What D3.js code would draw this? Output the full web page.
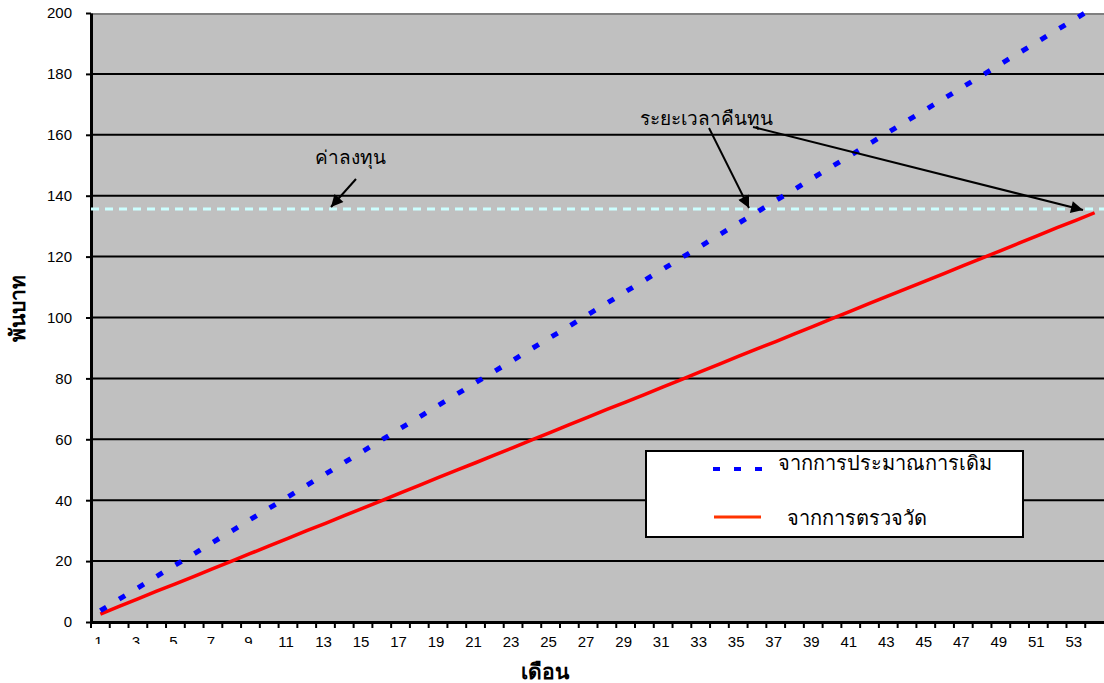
<!DOCTYPE html>
<html>
<head>
<meta charset="utf-8">
<script src="https://cdn.jsdelivr.net/npm/d3@7"></script>
<style>
  body { margin: 0; background: #fff; }
  .axis text { font-family: Arial, "Liberation Sans", sans-serif; font-size: 15px; fill: #000; }
  .thai { font-family: "Liberation Serif", "DejaVu Serif", serif; }
</style>
</head>
<body>
<div class="chart"></div>
<script>
const months = d3.range(1, 55);
const monthLabels = months.filter(m => m % 2 === 1);
const yTicks = [0, 20, 40, 60, 80, 100, 120, 140, 160, 180, 200];

// จากการประมาณการเดิม (blue, dotted)
const estimateValues = [
  3.7, 7.5, 11.2, 15.0, 18.7, 22.4, 26.2, 29.9, 33.7, 37.4,
  41.1, 44.9, 48.6, 52.4, 56.1, 59.8, 63.6, 67.3, 71.1, 74.8,
  78.6, 82.3, 86.0, 89.8, 93.5, 97.2, 101.0, 104.7, 108.5, 112.2,
  115.9, 119.7, 123.4, 127.2, 130.9, 134.6, 138.4, 142.1, 145.9, 149.6,
  153.3, 157.1, 160.8, 164.6, 168.3, 172.0, 175.8, 179.5, 183.3, 187.0,
  190.7, 194.5, 198.2, 202.0
];
// จากการตรวจวัด (red)
const measuredValues = [
  2.6, 5.1, 7.6, 10.1, 12.5, 15.0, 17.5, 20.0, 22.5, 25.0,
  27.5, 30.0, 32.4, 34.9, 37.4, 39.9, 42.4, 44.9, 47.4, 49.9,
  52.3, 54.8, 57.3, 59.8, 62.3, 64.8, 67.3, 69.8, 72.2, 74.7,
  77.2, 79.7, 82.2, 84.7, 87.2, 89.7, 92.1, 94.6, 97.1, 99.6,
  102.1, 104.6, 107.1, 109.6, 112.0, 114.5, 117.0, 119.5, 122.0, 124.5,
  127.0, 129.5, 131.9, 134.4
];
const investment = 135.6;

const W = 1104, H = 683;
const plot = { left: 91, top: 13, right: 1104, bottom: 622 };

const svg = d3.select('.chart').append('svg')
  .attr('width', W).attr('height', H);

const x = d3.scaleBand().domain(months).range([plot.left, plot.right]);
const y = d3.scaleLinear().domain([0, 200]).range([plot.bottom, plot.top]);
const cx = m => x(m) + x.bandwidth() / 2;

// plot background
svg.append('rect')
  .attr('x', plot.left).attr('y', plot.top)
  .attr('width', plot.right - plot.left).attr('height', plot.bottom - plot.top)
  .attr('fill', '#c0c0c0');
svg.append('line')
  .attr('x1', plot.left).attr('x2', plot.right)
  .attr('y1', plot.top + 1).attr('y2', plot.top + 1)
  .attr('stroke', '#808080').attr('stroke-width', 2);

// gridlines
svg.append('g').selectAll('line')
  .data(yTicks.filter(d => d > 0 && d < 200))
  .enter().append('line')
  .attr('x1', plot.left).attr('x2', plot.right)
  .attr('y1', d => y(d)).attr('y2', d => y(d))
  .attr('stroke', '#000').attr('stroke-width', 2);

// y axis
const yAxis = svg.append('g')
  .attr('class', 'axis')
  .attr('transform', `translate(${plot.left},0)`)
  .call(d3.axisLeft(y).tickValues(yTicks).tickSize(5).tickPadding(14).tickSizeOuter(0));
yAxis.select('.domain').attr('stroke-width', 3);
yAxis.selectAll('.tick line').attr('stroke-width', 2);

// x axis
const xAxis = svg.append('g')
  .attr('class', 'axis')
  .attr('transform', `translate(0,${plot.bottom})`)
  .call(d3.axisBottom(x).tickValues(monthLabels).tickSize(0).tickPadding(14));
xAxis.select('.domain').attr('stroke-width', 3);
xAxis.selectAll('.tick text').attr('dx', -2);

svg.append('g').selectAll('line')
  .data(months)
  .enter().append('line')
  .attr('x1', d => x(d)).attr('x2', d => x(d))
  .attr('y1', plot.bottom).attr('y2', plot.bottom + 6)
  .attr('stroke', '#000').attr('stroke-width', 2);

// first labels are cut off in the original
svg.append('rect')
  .attr('x', 80).attr('y', 644).attr('width', 182).attr('height', 18)
  .attr('fill', '#fff');

// investment line
svg.append('line')
  .attr('x1', plot.left).attr('x2', plot.right)
  .attr('y1', y(investment)).attr('y2', y(investment))
  .attr('stroke', '#ccffff').attr('stroke-width', 3)
  .attr('stroke-dasharray', '8,6');

const line = d3.line().x((d, i) => cx(months[i])).y(d => y(d));

svg.append('path')
  .attr('d', line(measuredValues))
  .attr('fill', 'none').attr('stroke', '#ff0000').attr('stroke-width', 3.5);

svg.append('path')
  .attr('d', line(estimateValues))
  .attr('fill', 'none').attr('stroke', '#0000ff').attr('stroke-width', 5)
  .attr('stroke-dasharray', '7,15');

// arrows
svg.append('defs').append('marker')
  .attr('id', 'arrow')
  .attr('viewBox', '0 0 10 10')
  .attr('refX', 10).attr('refY', 5)
  .attr('markerWidth', 7).attr('markerHeight', 6)
  .attr('markerUnits', 'strokeWidth')
  .attr('orient', 'auto')
  .append('path').attr('d', 'M0,0L10,5L0,10Z').attr('fill', '#000');

const arrows = [
  [356, 179, 331, 207],
  [709, 128, 749, 208],
  [753, 127, 1083, 210]
];
svg.append('g').selectAll('line')
  .data(arrows)
  .enter().append('line')
  .attr('x1', d => d[0]).attr('y1', d => d[1])
  .attr('x2', d => d[2]).attr('y2', d => d[3])
  .attr('stroke', '#000').attr('stroke-width', 2)
  .attr('marker-end', 'url(#arrow)');

svg.append('text').attr('class', 'thai')
  .attr('x', 350).attr('y', 164).attr('text-anchor', 'middle')
  .attr('font-size', 19).text('ค่าลงทุน');
svg.append('text').attr('class', 'thai')
  .attr('x', 706).attr('y', 125).attr('text-anchor', 'middle')
  .attr('font-size', 19).text('ระยะเวลาคืนทุน');

// legend
const lg = svg.append('g');
lg.append('rect')
  .attr('x', 646).attr('y', 451).attr('width', 377).attr('height', 86)
  .attr('fill', '#fff').attr('stroke', '#000').attr('stroke-width', 2);
lg.append('line')
  .attr('x1', 713).attr('x2', 762).attr('y1', 469).attr('y2', 469)
  .attr('stroke', '#0000ff').attr('stroke-width', 4).attr('stroke-dasharray', '7,14');
lg.append('text').attr('class', 'thai')
  .attr('x', 778).attr('y', 470).attr('font-size', 20)
  .text('จากการประมาณการเดิม');
lg.append('line')
  .attr('x1', 714).attr('x2', 761).attr('y1', 517).attr('y2', 517)
  .attr('stroke', '#ff3300').attr('stroke-width', 3);
lg.append('text').attr('class', 'thai')
  .attr('x', 787).attr('y', 525).attr('font-size', 20)
  .text('จากการตรวจวัด');

// axis titles
svg.append('text').attr('class', 'thai')
  .attr('x', 545).attr('y', 679).attr('text-anchor', 'middle')
  .attr('font-size', 21).attr('font-weight', 'bold')
  .text('เดือน');
svg.append('text').attr('class', 'thai')
  .attr('transform', 'translate(25,308) rotate(-90)')
  .attr('text-anchor', 'middle')
  .attr('font-size', 21).attr('font-weight', 'bold')
  .text('พันบาท');
</script>
</body>
</html>
